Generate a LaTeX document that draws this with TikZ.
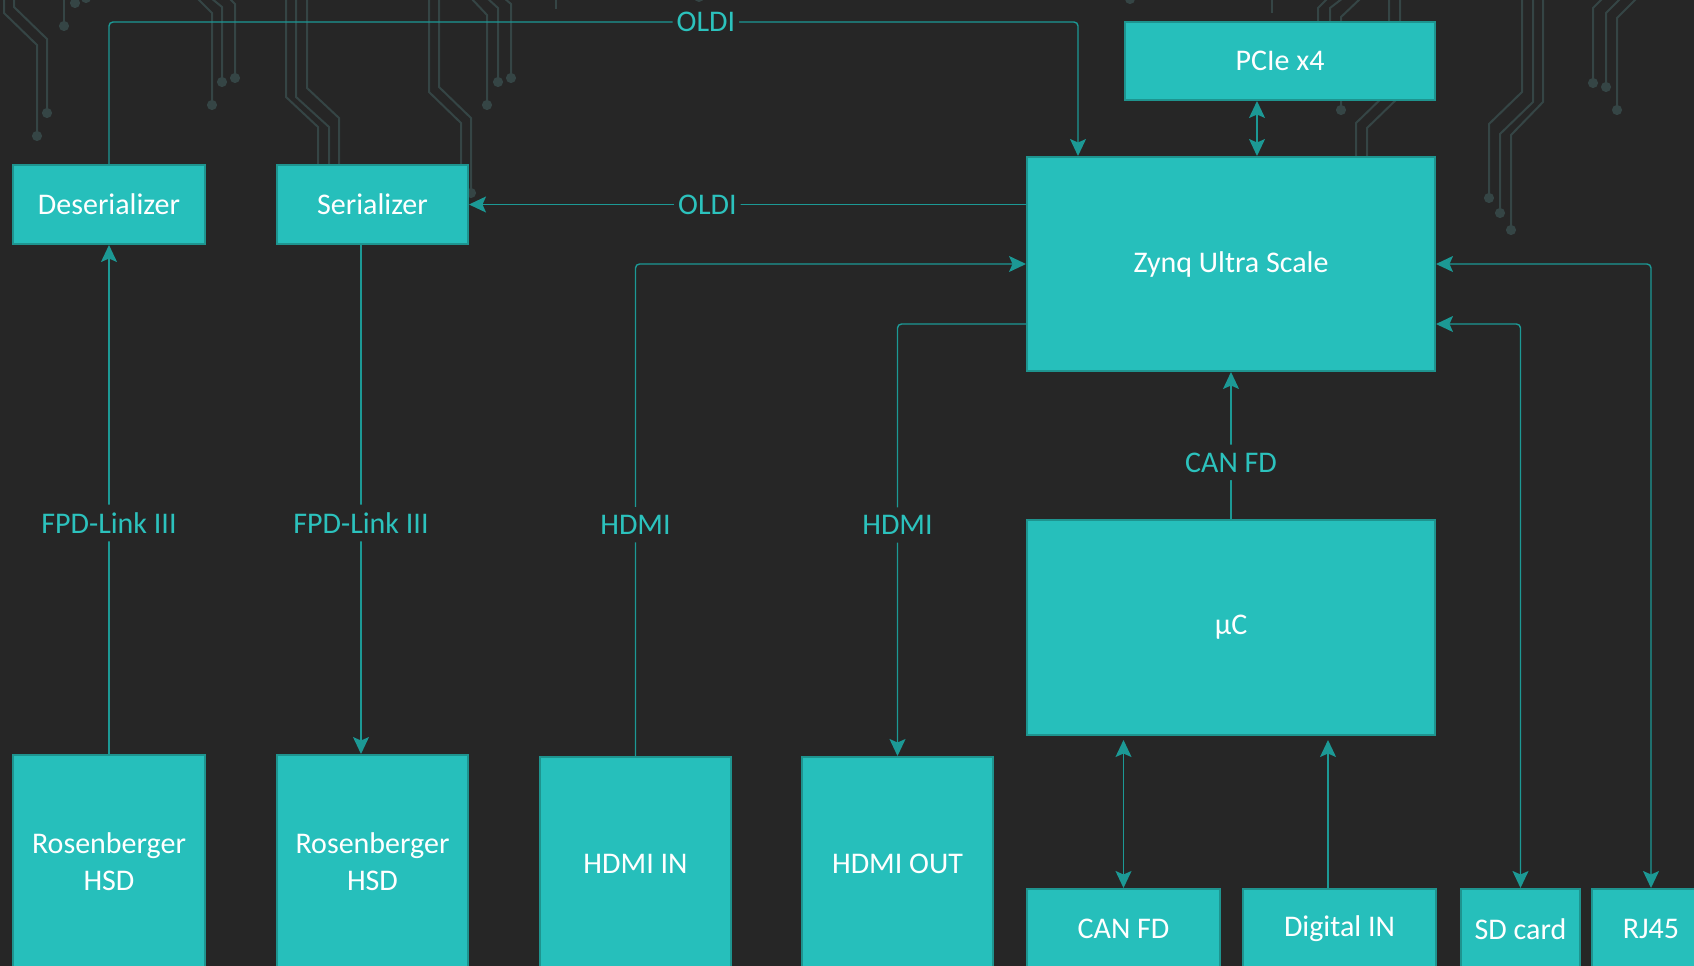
\documentclass[tikz,border=0pt]{standalone}
\usepackage{fontspec}
\setmainfont{Carlito}
\usetikzlibrary{arrows.meta,positioning,calc}
\definecolor{bgdark}{HTML}{262626}
\definecolor{boxteal}{HTML}{26BFBB}
\definecolor{edgeteal}{HTML}{1E948F}
\definecolor{wireteal}{HTML}{1C9995}
\definecolor{labelteal}{HTML}{2CC2BD}
\definecolor{tracegrey}{HTML}{354545}

\begin{document}
\begin{tikzpicture}[x=1pt,y=-1pt,
  block/.style={draw=edgeteal,line width=2pt,fill=boxteal,text=white,
    font=\fontsize{30}{37}\selectfont,align=center,inner sep=0pt},
  wire/.style={draw=wireteal,line width=1.4pt,rounded corners=4pt,
    >={Stealth[length=17pt,width=16pt,inset=3.5pt]}},
  lbl/.style={fill=bgdark,text=labelteal,font=\fontsize{30}{37}\selectfont,
    inner xsep=4pt,inner ysep=8pt},
  trace/.style={draw=tracegrey,line width=2pt,-{Circle[length=10pt,width=10pt]}},
  traceplain/.style={draw=tracegrey,line width=2pt}]

  \useasboundingbox (0,0) rectangle (1694,966);
  \clip (0,0) rectangle (1694,966);
  \fill[bgdark] (0,0) rectangle (1694,966);

  % circuit traces in the background
  \draw[trace] (4,-2) -- (4,13) -- (37,45) -- (37,141);
  \draw[trace] (14,-2) -- (14,7) -- (47,39) -- (47,118);
  \draw[trace] (64,-2) -- (64,31);
  \draw[trace] (75,-2) -- (75,8);
  \draw[trace] (86,-8) -- (86,3);
  \draw[trace] (197,-2) -- (212,13) -- (212,110);
  \draw[trace] (211,-2) -- (222,7) -- (222,87);
  \draw[trace] (229,-2) -- (235,4) -- (235,83);
  \draw[traceplain] (286,-2) -- (286,97) -- (318,127) -- (318,175);
  \draw[traceplain] (296,-2) -- (296,97) -- (329,127) -- (329,175);
  \draw[traceplain] (307,-2) -- (307,88) -- (339,118) -- (339,175);
  \draw[traceplain] (429,-2) -- (429,92) -- (461,123) -- (461,175);
  \draw[trace] (439,-2) -- (439,87) -- (471,118) -- (471,198);
  \draw[trace] (471,-2) -- (487,15) -- (487,110);
  \draw[trace] (487,-2) -- (498,8) -- (498,87);
  \draw[trace] (504,-2) -- (511,4) -- (511,83);
  \draw[traceplain] (556,-2) -- (556,9);
  \fill[tracegrey] (699,-3) circle (5);
  \draw[trace] (1130,-8) -- (1130,4);
  \draw[traceplain] (1272,-2) -- (1272,13);
  \draw[traceplain] (1328,-2) -- (1318,8) -- (1318,40);
  \draw[traceplain] (1343,-2) -- (1330,8) -- (1330,40);
  \draw[trace] (1361,-2) -- (1341,17) -- (1341,115);
  \draw[traceplain] (1389,-2) -- (1389,91) -- (1356,123) -- (1356,170);
  \draw[traceplain] (1400,-2) -- (1400,96) -- (1367,128) -- (1367,170);
  \draw[trace] (1522,-2) -- (1522,92) -- (1489,124) -- (1489,203);
  \draw[trace] (1533,-2) -- (1533,102) -- (1500,134) -- (1500,218);
  \draw[trace] (1543,-2) -- (1543,102) -- (1511,135) -- (1511,235);
  \draw[trace] (1603,-2) -- (1593,8) -- (1593,88);
  \draw[trace] (1621,-2) -- (1606,13) -- (1606,92);
  \draw[trace] (1637,-2) -- (1617,18) -- (1617,115);

  % blocks
  \node[block,minimum width=192pt,minimum height=79pt] (des) at (109,204.5) {Deserializer};
  \node[block,minimum width=191pt,minimum height=79pt] (ser) at (372.5,204.5) {Serializer};
  \node[block,minimum width=310pt,minimum height=78pt] (pcie) at (1280,61) {PCIe x4};
  \node[block,minimum width=408pt,minimum height=214pt] (zynq) at (1231,264) {Zynq Ultra Scale};
  \node[block,minimum width=408pt,minimum height=215pt] (uc) at (1231,627.5) {µC};
  \node[block,minimum width=192pt,minimum height=214pt] (rosA) at (109,862) {Rosenberger\\HSD};
  \node[block,minimum width=191pt,minimum height=214pt] (rosB) at (372.5,862) {Rosenberger\\HSD};
  \node[block,minimum width=191pt,minimum height=214pt] (hdin) at (635.5,864) {HDMI IN};
  \node[block,minimum width=191pt,minimum height=214pt] (hdout) at (897.5,864) {HDMI OUT};
  \node[block,minimum width=193pt,minimum height=80pt] (canb) at (1123.5,929) {CAN FD};
  \node[block,minimum width=193pt,minimum height=80pt] (digin) at (1339.5,929) {Digital IN};
  \node[block,minimum width=119pt,minimum height=80pt] (sd) at (1520.5,929) {SD card};
  \node[block,minimum width=118pt,minimum height=80pt] (rj) at (1651,929) {RJ45};

  \coordinate (oldi) at ([xshift=52pt]zynq.north west);
  \coordinate (zynqL) at ($(zynq.west)+(0,60)$);
  \coordinate (zynqR) at ($(zynq.east)+(0,60)$);

  % links
  \draw[wire,->] (des.north) -- (des.north |- 0,22) -- node[lbl,pos=0.616] {OLDI} (oldi |- 0,22) -- (oldi);
  \draw[wire,->] (zynq.west |- ser.east) -- node[lbl,pos=0.572] {OLDI} (ser.east);
  \draw[wire,->] (rosA.north) -- node[lbl,pos=0.454] {FPD-Link III} (des.south);
  \draw[wire,->] ([xshift=-11.5pt]ser.south) -- node[lbl,pos=0.546] {FPD-Link III} ([xshift=-11.5pt]rosB.north);
  \draw[wire,->] (hdin.north) -- node[lbl,pos=0.47] {HDMI} (hdin.north |- zynq.west) -- (zynq.west);
  \draw[wire,->] (zynqL) -- (zynqL -| hdout.north) -- node[lbl,pos=0.465] {HDMI} (hdout.north);
  \draw[wire,->] (uc.north) -- node[lbl,pos=0.385] {CAN FD} (zynq.south);
  \draw[wire,<->] ([xshift=-23pt]pcie.south) -- ([xshift=-23pt]pcie.south |- zynq.north);
  \draw[wire,<->] (sd.north) |- (zynqR);
  \draw[wire,<->] (rj.north) |- (zynq.east);
  \draw[wire,<->,shorten <=4pt] (canb.north |- uc.south) -- (canb.north);
  \draw[wire,->,shorten >=4pt] ([xshift=-11.5pt]digin.north) -- ([xshift=-11.5pt]digin.north |- uc.south);
\end{tikzpicture}
\end{document}
